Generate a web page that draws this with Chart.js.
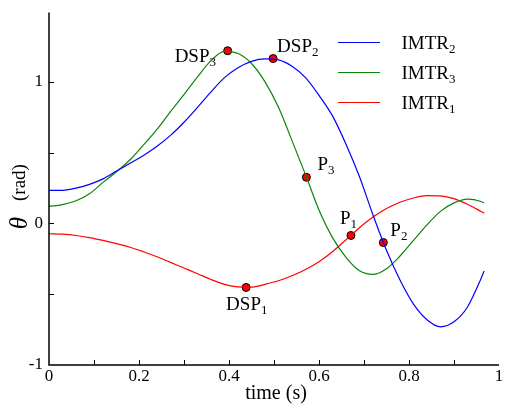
<!DOCTYPE html>
<html>
<head>
<meta charset="utf-8">
<script src="https://cdn.jsdelivr.net/npm/chart.js@4.4.1/dist/chart.umd.min.js"></script>
<style>
  html, body { margin: 0; padding: 0; background: #fff; }
</style>
</head>
<body>
<canvas id="thetaChart" width="505" height="404"></canvas>
<script>
// time (s) samples shared by the three curves
const timeS = [0, 0.03, 0.06, 0.09, 0.12, 0.15, 0.18, 0.21, 0.24, 0.27, 0.30, 0.33,
  0.36, 0.39, 0.42, 0.45, 0.48, 0.51, 0.54, 0.57, 0.60, 0.63, 0.66, 0.69, 0.72,
  0.75, 0.78, 0.81, 0.84, 0.87, 0.90, 0.93, 0.96, 0.967];

// theta (rad)
const imtr2 = [0.234, 0.234, 0.25, 0.276, 0.315, 0.37, 0.425, 0.48, 0.545, 0.622, 0.715, 0.82,
  0.93, 1.03, 1.10, 1.145, 1.162, 1.155, 1.11, 1.03, 0.905, 0.76, 0.56, 0.33, 0.06,
  -0.19, -0.40, -0.57, -0.68, -0.73, -0.695, -0.59, -0.39, -0.336];
const imtr3 = [0.12, 0.133, 0.16, 0.21, 0.29, 0.365, 0.45, 0.555, 0.665, 0.79, 0.91, 1.035,
  1.15, 1.215, 1.20, 1.13, 1.0, 0.82, 0.585, 0.345, 0.095, -0.10, -0.24, -0.335, -0.36,
  -0.32, -0.23, -0.12, -0.01, 0.085, 0.145, 0.172, 0.155, 0.144];
const imtr1 = [-0.073, -0.076, -0.085, -0.10, -0.12, -0.143, -0.168, -0.20, -0.235, -0.275, -0.315, -0.355,
  -0.396, -0.43, -0.448, -0.45, -0.43, -0.405, -0.37, -0.325, -0.27, -0.20, -0.115, -0.03, 0.045,
  0.105, 0.15, 0.18, 0.197, 0.195, 0.175, 0.135, 0.085, 0.073];

// marked points
const markerMain = ['DSP', 'DSP', 'P', 'P', 'P', 'DSP'];
const markerSub = ['3', '2', '3', '1', '2', '1'];
const markerT = [0.397, 0.498, 0.572, 0.671, 0.743, 0.438];
const markerTheta = [1.22, 1.165, 0.326, -0.085, -0.135, -0.452];

// legend entries (in drawing order)
const legendMain = ['IMTR', 'IMTR', 'IMTR'];
const legendSub = ['2', '3', '1'];

const SERIF = '"Liberation Serif", "DejaVu Serif", serif';
const BLUE = '#0000ff', GREEN = '#0a850a', RED = '#ff0000';

// label offsets from each marker (pixels)
const labelOffsets = [[-53, 11], [4, -7], [11, -7], [-11, -11], [7, -7], [-20, 23]];

function toPoints(ys) {
  return timeS.map((t, i) => ({ x: t, y: ys[i] }));
}

function drawSubText(ctx, x, y, main, sub, size) {
  ctx.font = size + 'px ' + SERIF;
  ctx.fillText(main, x, y);
  const w = ctx.measureText(main).width;
  ctx.font = Math.round(size * 0.68) + 'px ' + SERIF;
  ctx.fillText(sub, x + w, y + 4);
}

const decorations = {
  id: 'decorations',
  afterDatasetsDraw(chart) {
    const ctx = chart.ctx;
    const xs = chart.scales.x, ys = chart.scales.y;
    const left = xs.getPixelForValue(0), right = xs.getPixelForValue(1);
    const bottom = ys.getPixelForValue(-1), top = ys.getPixelForValue(1.49);
    ctx.save();
    // axes
    ctx.strokeStyle = '#000';
    ctx.lineWidth = 1.5;
    ctx.beginPath();
    ctx.moveTo(left, top);
    ctx.lineTo(left, bottom);
    ctx.lineTo(right, bottom);
    ctx.stroke();
    // inward ticks
    ctx.lineWidth = 1;
    ctx.beginPath();
    for (let k = 1; k <= 9; k++) {
      const px = Math.round(xs.getPixelForValue(k / 10)) + 0.5;
      ctx.moveTo(px, bottom);
      ctx.lineTo(px, bottom - 5);
    }
    [-0.5, 0, 0.5, 1].forEach(v => {
      const py = Math.round(ys.getPixelForValue(v)) + 0.5;
      ctx.moveTo(left, py);
      ctx.lineTo(left + 5, py);
    });
    ctx.stroke();

    // marker labels
    ctx.fillStyle = '#000';
    ctx.textAlign = 'left';
    ctx.textBaseline = 'alphabetic';
    markerT.forEach((t, i) => {
      const px = xs.getPixelForValue(t), py = ys.getPixelForValue(markerTheta[i]);
      drawSubText(ctx, px + labelOffsets[i][0], py + labelOffsets[i][1], markerMain[i], markerSub[i], 19);
    });

    // legend
    const legendColors = [BLUE, GREEN, RED];
    legendMain.forEach((name, i) => {
      const ly = 42.5 + i * 30;
      ctx.strokeStyle = legendColors[i];
      ctx.lineWidth = 1.2;
      ctx.beginPath();
      ctx.moveTo(338, ly);
      ctx.lineTo(380, ly);
      ctx.stroke();
      ctx.fillStyle = '#000';
      drawSubText(ctx, 401.5, ly + 6.8, name, legendSub[i], 19);
    });

    // axis titles
    ctx.textAlign = 'center';
    ctx.font = '20px ' + SERIF;
    ctx.fillText('time (s)', (left + right) / 2 + 2, 399);

    ctx.translate(27, 223);
    ctx.rotate(-Math.PI / 2);
    ctx.textAlign = 'center';
    ctx.font = 'italic 25px ' + SERIF;
    ctx.fillText('\u03B8', 0, 0);
    ctx.textAlign = 'left';
    ctx.font = '19px ' + SERIF;
    ctx.fillText('(rad)', 22, -2);
    ctx.restore();
  }
};

new Chart(document.getElementById('thetaChart'), {
  type: 'line',
  data: {
    datasets: [
      { label: 'IMTR2', data: toPoints(imtr2), borderColor: BLUE, borderWidth: 1.2, pointRadius: 0, cubicInterpolationMode: 'monotone' },
      { label: 'IMTR3', data: toPoints(imtr3), borderColor: GREEN, borderWidth: 1.2, pointRadius: 0, cubicInterpolationMode: 'monotone' },
      { label: 'IMTR1', data: toPoints(imtr1), borderColor: RED, borderWidth: 1.2, pointRadius: 0, cubicInterpolationMode: 'monotone' },
      {
        label: 'points',
        data: markerT.map((t, i) => ({ x: t, y: markerTheta[i] })),
        showLine: false,
        pointRadius: 4,
        pointBackgroundColor: '#ff0000',
        pointBorderColor: '#000',
        pointBorderWidth: 1
      }
    ]
  },
  options: {
    responsive: false,
    animation: false,
    devicePixelRatio: 1,
    layout: { autoPadding: false, padding: { top: 5, right: 6, left: 0, bottom: 0 } },
    plugins: { legend: { display: false }, tooltip: { enabled: false } },
    scales: {
      x: {
        type: 'linear',
        min: 0, max: 1,
        border: { display: false },
        grid: { display: false, drawTicks: false },
        afterFit(scale) { scale.height = 39; },
        ticks: {
          stepSize: 0.1,
          padding: 1,
          color: '#000',
          font: { family: SERIF, size: 17 },
          maxRotation: 0,
          autoSkip: false,
          callback: v => (Math.round(v * 10) % 2 === 0 ? String(Math.round(v * 10) / 10) : '')
        }
      },
      y: {
        min: -1, max: 1.5,
        border: { display: false },
        grid: { display: false, drawTicks: false },
        afterFit(scale) { scale.width = 49; },
        ticks: {
          stepSize: 0.5,
          padding: 6,
          color: '#000',
          font: { family: SERIF, size: 17, lineHeight: 0.6 },
          callback: v => (Number.isInteger(v) ? String(v) : '')
        }
      }
    }
  },
  plugins: [decorations]
});
</script>
</body>
</html>
